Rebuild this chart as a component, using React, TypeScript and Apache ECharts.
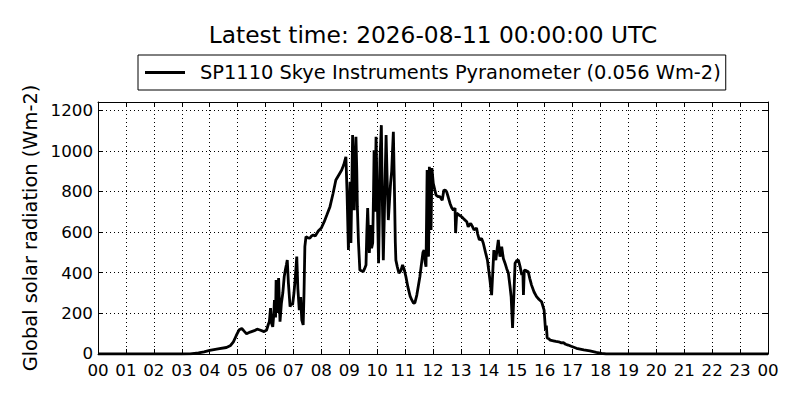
import React, { useEffect, useRef } from "react";
import * as echarts from "echarts";

const TITLE = "Latest time: 2026-08-11 00:00:00 UTC";
const SERIES_NAME = "SP1110 Skye Instruments Pyranometer (0.056 Wm-2)";
const Y_NAME = "Global solar radiation (Wm-2)";

// Time of day in hours
const hours = [
  0, 1, 2, 3, 3.3, 3.6, 3.8, 4.0, 4.3, 4.6, 4.75, 4.85, 4.95, 5.05, 5.15, 5.25, 5.32, 5.45, 5.6, 5.7, 5.8, 5.95,
  6.04, 6.1, 6.14, 6.18, 6.22, 6.26, 6.3, 6.32, 6.36, 6.38, 6.42, 6.45, 6.47, 6.5, 6.52, 6.57, 6.62, 6.67, 6.71,
  6.75, 6.78, 6.82, 6.88, 6.93, 6.97, 7.02, 7.07, 7.12, 7.16, 7.21, 7.26, 7.3, 7.35, 7.38, 7.41, 7.45, 7.52, 7.59,
  7.66, 7.71, 7.78, 7.83, 7.89, 8.0, 8.1, 8.2, 8.31, 8.42, 8.52, 8.6, 8.73, 8.8, 8.88, 8.92, 8.97, 9.0, 9.03, 9.06,
  9.09, 9.12, 9.15, 9.18, 9.21, 9.24, 9.27, 9.29, 9.33, 9.38, 9.45, 9.5, 9.55, 9.6, 9.63, 9.66, 9.69, 9.72, 9.77,
  9.8, 9.84, 9.87, 9.89, 9.92, 9.96, 10.0, 10.05, 10.08, 10.1, 10.15, 10.18, 10.22, 10.26, 10.29, 10.32, 10.36,
  10.4, 10.44, 10.48, 10.52, 10.55, 10.58, 10.62, 10.65, 10.67, 10.72, 10.78, 10.85, 10.91, 10.96, 11.03, 11.1,
  11.18, 11.24, 11.3, 11.35, 11.42, 11.47, 11.53, 11.59, 11.64, 11.68, 11.72, 11.75, 11.79, 11.82, 11.84, 11.87,
  11.9, 11.93, 11.96, 12.01, 12.06, 12.11, 12.18, 12.25, 12.33, 12.39, 12.45, 12.49, 12.55, 12.61, 12.67, 12.73,
  12.79, 12.81, 12.85, 12.92, 13.03, 13.1, 13.21, 13.26, 13.35, 13.41, 13.47, 13.56, 13.6, 13.66, 13.74, 13.8,
  13.88, 13.95, 14.04, 14.1, 14.14, 14.18, 14.22, 14.25, 14.3, 14.34, 14.38, 14.4, 14.46, 14.52, 14.58, 14.64,
  14.7, 14.76, 14.8, 14.85, 14.9, 14.94, 15.0, 15.06, 15.12, 15.18, 15.22, 15.24, 15.27, 15.34, 15.41, 15.47,
  15.53, 15.62, 15.71, 15.8, 15.89, 15.98, 16.03, 16.06, 16.09, 16.15, 16.2, 16.31, 16.4, 16.5, 16.6, 16.67,
  16.75, 16.84, 16.95, 17.14, 17.4, 17.62, 17.85, 18.04, 18.2, 20, 22, 24,
];

// Global solar radiation (W m-2)
const radiation = [
  0, 0, 0, 0, 1, 5, 10, 18, 25, 32, 42, 60, 90, 118, 126, 110, 100, 108, 115, 122, 118, 110,
  118, 145, 160, 226, 150, 134, 200, 266, 180, 364, 202, 330, 374, 240, 159, 250, 300, 380, 413,
  440, 462, 350, 233, 250, 241, 300, 380, 479, 320, 216, 280, 167, 143, 300, 528, 577, 572, 570,
  582, 585, 580, 592, 605, 620, 650, 685, 725, 790, 856, 875, 905, 930, 970, 800, 512, 700, 848, 546,
  800, 1077, 850, 708, 950, 1069, 900, 725, 550, 413, 408, 405, 420, 438, 600, 718, 600, 497, 635,
  520, 546, 800, 1003, 700, 1069, 800, 447, 700, 950, 1126, 800, 462, 700, 900, 1077, 850,
  659, 750, 840, 900, 1000, 1093, 800, 550, 462, 430, 398, 410, 438, 420, 380, 330,
  285, 266, 251, 252, 290, 331, 380, 447, 500, 511, 450, 429, 905, 600, 479, 921,
  700, 610, 915, 840, 810, 782, 775, 774, 757, 807, 805, 798, 770, 741, 720, 708,
  718, 595, 693, 685, 675, 665, 651, 626, 643, 628, 610, 620, 590, 561, 569, 546,
  500, 462, 364, 290, 400, 511, 480, 462, 520, 561, 500, 479, 528, 470, 447, 420,
  398, 331, 280, 128, 300, 447, 460, 462, 430, 389, 400, 290, 413, 410, 405, 370,
  339, 305, 282, 268, 257, 216, 118, 140, 79, 75, 68, 65, 62, 60, 55, 56,
  48, 44, 38, 28, 20, 15, 8, 3, 0, 0, 0, 0,
];

const X_MIN = 0;
const X_MAX = 24;
const Y_MIN = 0;
const Y_MAX = 1240;

const FONT = "DejaVu Sans";

export default function App() {
  const ref = useRef<HTMLDivElement>(null);

  useEffect(() => {
    document.body.style.margin = "0";
    if (!ref.current) return;
    const chart = echarts.init(ref.current, undefined, { renderer: "svg" });
    const data = hours.map((h, i) => [h, radiation[i]]);
    const pad = (v: number) => {
      const n = Math.round(v) % 24;
      return n < 10 ? "0" + n : String(n);
    };
    chart.setOption({
      animation: false,
      backgroundColor: "#fff",
      grid: { left: 98, right: 32, top: 102, bottom: 46, containLabel: false },
      graphic: [
        {
          type: "text",
          x: 433,
          y: 34,
          style: {
            text: TITLE,
            align: "center",
            verticalAlign: "middle",
            fontFamily: FONT,
            fontSize: 23.3,
            fill: "#000",
          },
        },
        {
          type: "text",
          x: 30,
          y: 228,
          rotation: Math.PI / 2,
          style: {
            text: Y_NAME,
            align: "center",
            verticalAlign: "middle",
            fontFamily: FONT,
            fontSize: 19.4,
            fill: "#000",
          },
        },
      ],
      legend: {
        left: 138,
        top: 55,
        padding: [7, 5, 7, 7],
        borderColor: "#000",
        borderWidth: 1,
        borderRadius: 0,
        itemWidth: 40,
        itemHeight: 3,
        textStyle: {
          fontFamily: FONT,
          fontSize: 19.4,
          lineHeight: 21,
          color: "#000",
          padding: [0, 0, 0, 10],
        },
        data: [{ name: SERIES_NAME, icon: "rect", itemStyle: { color: "#000" } }],
      },
      xAxis: [
        {
          type: "value",
          min: X_MIN,
          max: X_MAX,
          interval: 1,
          axisLine: { show: true, onZero: false, lineStyle: { color: "#000", width: 1 } },
          axisTick: { show: true, inside: true, length: 5, lineStyle: { color: "#000" } },
          axisLabel: {
            formatter: (v: number) => pad(v),
            fontFamily: FONT,
            fontSize: 16.7,
            lineHeight: 14,
            color: "#000",
            margin: 9,
          },
          splitLine: { show: true, lineStyle: { color: "#000", type: [1, 3], width: 1 } },
        },
        {
          type: "value",
          position: "top",
          min: X_MIN,
          max: X_MAX,
          interval: 1,
          axisLine: { show: true, onZero: false, lineStyle: { color: "#000", width: 1 } },
          axisTick: { show: true, inside: true, length: 5, lineStyle: { color: "#000" } },
          axisLabel: { show: false },
          splitLine: { show: false },
        },
      ],
      yAxis: [
        {
          type: "value",
          min: Y_MIN,
          max: Y_MAX,
          interval: 200,
          axisLine: { show: true, onZero: false, lineStyle: { color: "#000", width: 1 } },
          axisTick: { show: true, inside: true, length: 5, lineStyle: { color: "#000" } },
          axisLabel: {
            formatter: (v: number) => (v === 0 ? "{z|0}" : String(v)),
            fontFamily: FONT,
            fontSize: 16.7,
            lineHeight: 13,
            color: "#000",
            margin: 5,
            showMaxLabel: false,
            rich: {
              z: {
                fontFamily: FONT,
                fontSize: 16.7,
                lineHeight: 13,
                color: "#000",
                padding: [0, 0, 3, 0],
              },
            },
          },
          splitLine: { show: true, lineStyle: { color: "#000", type: [1, 3], width: 1 } },
        },
        {
          type: "value",
          position: "right",
          min: Y_MIN,
          max: Y_MAX,
          interval: 200,
          axisLine: { show: true, onZero: false, lineStyle: { color: "#000", width: 1 } },
          axisTick: { show: true, inside: true, length: 5, lineStyle: { color: "#000" } },
          axisLabel: { show: false },
          splitLine: { show: false },
        },
      ],
      series: [
        {
          name: SERIES_NAME,
          type: "line",
          xAxisIndex: 0,
          yAxisIndex: 0,
          data,
          symbol: "none",
          showSymbol: false,
          clip: true,
          lineStyle: { color: "#000", width: 2.8 },
          itemStyle: { color: "#000" },
          emphasis: { disabled: true },
        },
      ],
    });
    return () => chart.dispose();
  }, []);

  return <div ref={ref} style={{ width: 800, height: 400 }} />;
}
